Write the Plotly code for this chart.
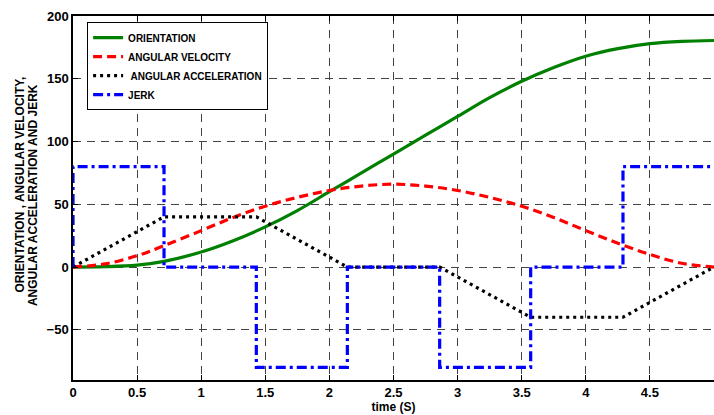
import plotly.graph_objects as go

# ---- data ----
t_smooth = [0, 0.25, 0.5, 0.71, 1.0, 1.25, 1.5, 1.75, 2.0, 2.25, 2.5,
            2.75, 3.0, 3.25, 3.5, 3.75, 4.0, 4.25, 4.5, 4.75, 5.0]
orientation = [0, 0.3, 1.5, 4.5, 12, 21, 32, 45, 60, 75, 90,
               105, 120, 135, 148, 159, 168, 174, 178, 179.8, 180.5]
ang_velocity = [0, 2.5, 9, 17, 29, 39.5, 48.5, 55.5, 61, 64.5, 66,
                64.5, 61, 55.5, 48.5, 39.5, 29, 19, 10, 3, 0]

t_break = [0, 0.71, 1.43, 2.14, 2.86, 3.57, 4.29, 5.0]
ang_accel = [0, 40, 40, 0, 0, -40, -40, 0]

t_jerk = [0, 0, 0.71, 1.43, 2.14, 2.86, 3.57, 4.29, 5.0]
jerk = [0, 80, 0, -80, 0, -80, 0, 80, 80]

x_ticks = [0, 0.5, 1, 1.5, 2, 2.5, 3, 3.5, 4, 4.5, 5]
x_tick_text = ["0", "0.5", "1", "1.5", "2", "2.5", "3", "3.5", "4", "4.5", "5"]
y_ticks = [-50, 0, 50, 100, 150, 200]

y_title_lines = ["ORIENTATION , ANGULAR VELOCITY,", "ANGULAR ACCELERATION AND JERK"]

FONT = "Arial, Liberation Sans, sans-serif"

fig = go.Figure()
fig.add_trace(go.Scatter(x=t_smooth, y=orientation, mode="lines", name="ORIENTATION",
                         line=dict(color="#008000", width=3.2, shape="spline")))
fig.add_trace(go.Scatter(x=t_smooth, y=ang_velocity, mode="lines", name="ANGULAR VELOCITY",
                         line=dict(color="#ff0000", width=3.2, shape="spline", dash="9px,5px")))
fig.add_trace(go.Scatter(x=t_break, y=ang_accel, mode="lines", name=" ANGULAR ACCELERATION",
                         line=dict(color="#000000", width=3.2, dash="3px,4px")))
fig.add_trace(go.Scatter(x=t_jerk, y=jerk, mode="lines", name="JERK",
                         line=dict(color="#0000ff", width=3.2, shape="hv", dash="10px,4px,3px,4px")))

fig.update_layout(
    width=714, height=415,
    margin=dict(l=73, r=0, t=16, b=35),
    plot_bgcolor="white", paper_bgcolor="white",
    font=dict(family=FONT, size=12, color="black", weight="bold"),
    legend=dict(x=0.022, y=0.983, xanchor="left", yanchor="top",
                bgcolor="white", bordercolor="black", borderwidth=1,
                font=dict(family=FONT, size=10, color="black", weight="bold"),
                tracegroupgap=0),
    showlegend=True,
)
fig.update_xaxes(range=[0, 5], tickvals=x_ticks, ticktext=x_tick_text,
                 showline=True, linecolor="black", linewidth=1.5, mirror="ticks",
                 ticks="inside", ticklen=5, tickcolor="black",
                 showgrid=True, gridcolor="#444444", gridwidth=1, griddash="8px,6px",
                 zeroline=False,
                 title=dict(text="time (S)", standoff=2,
                            font=dict(family=FONT, size=12, weight="bold")),
                 tickfont=dict(family=FONT, size=13, weight="bold"))
fig.update_yaxes(range=[-90, 200], tickvals=y_ticks,
                 showline=True, linecolor="black", linewidth=1.5,
                 ticks="inside", ticklen=5, tickcolor="black",
                 showgrid=True, gridcolor="#444444", gridwidth=1, griddash="8px,6px",
                 zeroline=False,
                 tickfont=dict(family=FONT, size=13, weight="bold"))

# two-line rotated y-axis title
fig.add_annotation(text=y_title_lines[0], xref="paper", yref="paper",
                   x=0, y=0.537, xshift=-53, xanchor="center", yanchor="middle",
                   textangle=-90, showarrow=False,
                   font=dict(family=FONT, size=12, weight="bold", color="black"))
fig.add_annotation(text=y_title_lines[1], xref="paper", yref="paper",
                   x=0, y=0.508, xshift=-40, xanchor="center", yanchor="middle",
                   textangle=-90, showarrow=False,
                   font=dict(family=FONT, size=12, weight="bold", color="black"))

fig.write_html("out.html", config={"displayModeBar": False},
               post_script="document.body.style.margin='0';document.body.style.overflow='hidden';")
